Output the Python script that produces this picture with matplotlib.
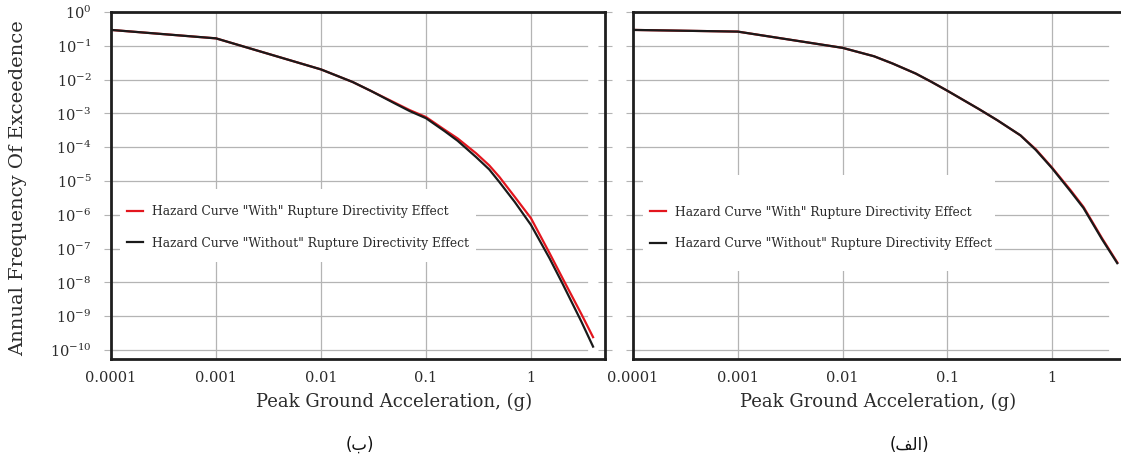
import matplotlib
matplotlib.use("Agg")
import matplotlib.pyplot as plt
from matplotlib.patches import Rectangle
from matplotlib.transforms import ScaledTranslation

plt.rcParams["font.family"] = ["DejaVu Serif", "DejaVu Sans"]
plt.rcParams["mathtext.fontset"] = "dejavuserif"

# Panel (b): hazard curves with / without rupture directivity
pga_b = [1e-4, 1e-3, 0.01, 0.02, 0.03, 0.05, 0.07, 0.1, 0.15, 0.2, 0.3, 0.4, 0.5, 0.7, 1.0, 1.5, 2.0, 3.0, 3.9]
without_b = [2.95e-1, 1.66e-1, 2.0e-2, 8.5e-3, 4.6e-3, 2.0e-3, 1.17e-3, 7.2e-4, 3.0e-4, 1.55e-4, 5.1e-5,
             2.2e-5, 9.3e-6, 2.4e-6, 5.0e-7, 5.2e-8, 9.1e-9, 7.2e-10, 1.26e-10]
with_b = [2.95e-1, 1.66e-1, 2.0e-2, 8.5e-3, 4.6e-3, 2.1e-3, 1.25e-3, 7.8e-4, 3.3e-4, 1.82e-4, 6.6e-5,
          2.9e-5, 1.32e-5, 3.4e-6, 7.9e-7, 7.4e-8, 1.32e-8, 1.2e-9, 2.4e-10]

# Panel (a)
pga_a = [1e-4, 1e-3, 0.01, 0.02, 0.03, 0.05, 0.07, 0.1, 0.2, 0.3, 0.5, 0.7, 1.0, 1.5, 2.0, 3.0, 4.2]
without_a = [2.95e-1, 2.63e-1, 8.7e-2, 4.9e-2, 3.0e-2, 1.51e-2, 8.7e-3, 4.7e-3, 1.35e-3, 6.3e-4,
             2.24e-4, 8.3e-5, 2.4e-5, 5.0e-6, 1.58e-6, 1.9e-7, 3.7e-8]
with_a = [2.95e-1, 2.63e-1, 8.7e-2, 4.9e-2, 3.0e-2, 1.51e-2, 8.7e-3, 4.7e-3, 1.35e-3, 6.3e-4,
          2.24e-4, 8.7e-5, 2.5e-5, 5.4e-6, 1.7e-6, 2.04e-7, 3.9e-8]

x_ticks = [1e-4, 1e-3, 1e-2, 1e-1, 1]
x_labels = ["0.0001", "0.001", "0.01", "0.1", "1"]
y_exponents = list(range(0, -11, -1))
y_labels = [r"$10^{%d}$" % e for e in y_exponents]

label_with = 'Hazard Curve "With" Rupture Directivity Effect'
label_without = 'Hazard Curve "Without" Rupture Directivity Effect'
x_title = "Peak Ground Acceleration, (g)"
y_title = "Annual Frequency Of Exceedence"
caption_b = "(\u0628)"
caption_a = "(\uFED2\uFEDF\uFE8D)"

W, H = 1121, 463
fig = plt.figure(figsize=(W / 100, H / 100), dpi=100)


def px_box(x0, x1, ytop, ybot):
    return [x0 / W, 1 - ybot / H, (x1 - x0) / W, (ybot - ytop) / H]


GRID = "#b4b4b4"
TEXT = "#2b2b2b"


def style_axes(ax, xmax, show_ylabels, legend_box):
    ax.set_xscale("log")
    ax.set_yscale("log")
    ax.set_xlim(1e-4, xmax)
    ax.set_ylim(10 ** (-(359 - 12) / 33.8), 1.0)
    # grid drawn by hand so horizontal lines stop short of the right edge
    for yt in [10.0 ** e for e in y_exponents[1:]]:
        ax.plot([1e-4, 3.4], [yt, yt], color=GRID, lw=0.9, zorder=0.5)
    for xt in x_ticks[1:]:
        ax.axvline(xt, color=GRID, lw=0.9, zorder=0.5)
    ax.add_patch(Rectangle(legend_box[:2], legend_box[2], legend_box[3], transform=ax.transAxes,
                           facecolor="white", edgecolor="none", zorder=1))
    ax.xaxis.set_major_locator(matplotlib.ticker.FixedLocator(x_ticks))
    ax.set_xticklabels(x_labels)
    ax.xaxis.set_minor_locator(matplotlib.ticker.NullLocator())
    ax.yaxis.set_major_locator(matplotlib.ticker.FixedLocator([10.0 ** e for e in y_exponents]))
    ax.yaxis.set_minor_locator(matplotlib.ticker.NullLocator())
    if show_ylabels:
        ax.set_yticklabels(y_labels)
        shift = ScaledTranslation(0, -4 / 100, fig.dpi_scale_trans)
        for lab in ax.get_yticklabels():
            lab.set_transform(lab.get_transform() + shift)
    else:
        ax.set_yticklabels([])
    ax.tick_params(axis="y", direction="inout", length=10, color=GRID, labelsize=10.5,
                   labelcolor=TEXT, pad=9, right=show_ylabels)
    ax.tick_params(axis="x", direction="out", length=0, labelsize=10.5, labelcolor=TEXT, pad=9)
    for s in ax.spines.values():
        s.set_color("#1e1e1e")
        s.set_linewidth(2.0)


legend_kw = dict(loc="upper left", frameon=False, fontsize=8.8, handlelength=1.3,
                 handletextpad=0.75, labelspacing=1.55, labelcolor=TEXT)

# left panel (b)
ax1 = fig.add_axes(px_box(111, 605, 12, 359))
style_axes(ax1, 10 ** ((605 - 531) / 105), True, (0.018, 0.28, 0.72, 0.21))
ax1.plot(pga_b, with_b, color="#e3161e", lw=1.6, zorder=2, label=label_with)
ax1.plot(pga_b, without_b, color="#1a1a1a", lw=1.6, zorder=3, label=label_without)
ax1.legend(bbox_to_anchor=(0.01, 0.476), **legend_kw)

# right panel (a)
ax2 = fig.add_axes(px_box(633, 1125, 12, 359))
style_axes(ax2, 10 ** ((1125 - 1052) / 104.75), False, (0.02, 0.255, 0.715, 0.275))
ax2.plot(pga_a, with_a, color="#e3161e", lw=1.6, zorder=2, label=label_with)
ax2.plot(pga_a, without_a, color="#1a1a1a", lw=1.6, zorder=3, label=label_without)
ax2.legend(bbox_to_anchor=(0.012, 0.474), **legend_kw)

fig.text(394 / W, 1 - 402 / H, x_title, ha="center", va="center", fontsize=13, color=TEXT)
fig.text(878 / W, 1 - 402 / H, x_title, ha="center", va="center", fontsize=13, color=TEXT)
fig.text(18 / W, 1 - 188 / H, y_title, ha="center", va="center", rotation=90, fontsize=14, color=TEXT)

fig.text(360 / W, 1 - 445 / H, caption_b, ha="center", va="center", fontsize=12,
         family="DejaVu Sans", color="#111111")
fig.text(909 / W, 1 - 445 / H, caption_a, ha="center", va="center", fontsize=12,
         family="DejaVu Sans", color="#111111")

fig.savefig("out.png", dpi=100)
